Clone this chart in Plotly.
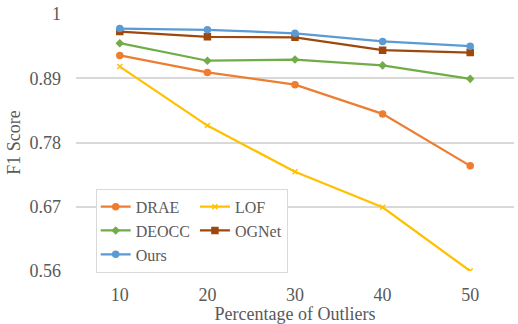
import plotly.graph_objects as go

outliers = [10, 20, 30, 40, 50]
drae = [0.929, 0.900, 0.879, 0.829, 0.740]
lof = [0.910, 0.809, 0.730, 0.669, 0.560]
deocc = [0.950, 0.920, 0.922, 0.912, 0.889]
ognet = [0.970, 0.961, 0.960, 0.938, 0.934]
ours = [0.975, 0.973, 0.967, 0.953, 0.945]

y_ticks = [0.56, 0.67, 0.78, 0.89, 1.0]
y_ticklabels = ["0.56", "0.67", "0.78", "0.89", "1"]

series = [
    ("DRAE", drae, "#ED7D31", "circle", 6, "a"),
    ("LOF", lof, "#FFC000", "x-thin-open", 5, "b"),
    ("DEOCC", deocc, "#70AD47", "diamond", 5, "a"),
    ("OGNet", ognet, "#9E480E", "square", 6, "b"),
    ("Ours", ours, "#5B9BD5", "circle", 6, "a"),
]

fig = go.Figure()
for name, vals, color, sym, size, grp in series:
    fig.add_trace(go.Scatter(
        x=outliers, y=vals, name=name, mode="lines+markers",
        legendgroup=grp,
        line=dict(color=color, width=2.25),
        marker=dict(color=color, symbol=sym, size=size,
                    line=dict(color=color, width=1.5)),
    ))

font_family = "Liberation Serif"
gray = "#595959"

fig.update_layout(
    width=518, height=324,
    margin=dict(l=76, r=4, t=14, b=53, autoexpand=False),
    paper_bgcolor="white", plot_bgcolor="white",
    font=dict(family=font_family, size=18, color=gray),
    xaxis=dict(
        range=[5, 55], tickvals=outliers, ticktext=[str(v) for v in outliers],
        showgrid=False, zeroline=False, showline=False, ticks="",
        ticklabelstandoff=11,
        tickfont=dict(family=font_family, size=18, color=gray),
        title=dict(text="Percentage of Outliers", font=dict(family=font_family, size=18, color=gray), standoff=14),
    ),
    yaxis=dict(
        range=[0.56, 1.0], tickvals=y_ticks, ticktext=y_ticklabels,
        showgrid=True, gridcolor="#D9D9D9", gridwidth=1.5, zeroline=False,
        showline=False, ticks="", ticklabelstandoff=14,
        tickfont=dict(family=font_family, size=18, color=gray),
        title=dict(text="F1 Score", font=dict(family=font_family, size=18, color=gray), standoff=4),
    ),
    legend=dict(
        orientation="h", traceorder="grouped",
        x=0.045, y=0.32, xanchor="left", yanchor="top",
        bgcolor="white", bordercolor="#D9D9D9", borderwidth=1,
        font=dict(family=font_family, size=16, color=gray), tracegroupgap=0,
        itemwidth=30,
    ),
    showlegend=True,
)

fig.write_html("out.html")
